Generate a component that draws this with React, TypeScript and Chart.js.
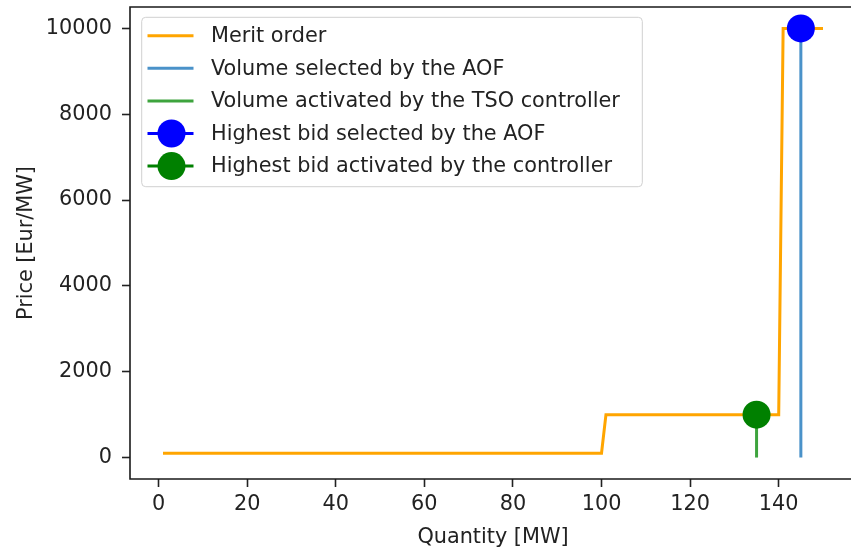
import React, { useEffect, useRef } from "react";
import { Chart, registerables } from "chart.js";

Chart.register(...registerables);

// ---- data ----
const meritQuantity = [1, 100, 101, 140, 141, 150];
const meritPrice = [100, 100, 1000, 1000, 10000, 10000];
const aofVolume = 145;
const aofPrice = 10000;
const tsoVolume = 135;
const tsoPrice = 1000;
const xTicks = [0, 20, 40, 60, 80, 100, 120, 140];
const yTicks = [0, 2000, 4000, 6000, 8000, 10000];
const seriesLabels = [
  "Merit order",
  "Volume selected by the AOF",
  "Volume activated by the TSO controller",
  "Highest bid selected by the AOF",
  "Highest bid activated by the controller",
];
const xTitle = "Quantity [MW]";
const yTitle = "Price [Eur/MW]";

// ---- style ----
const FONT = "'DejaVu Sans', sans-serif";
const FS = 20.8;
const TEXT = "#222222";
const ORANGE = "#ffa500";
const BLUE_LINE = "#4a92c9";
const GREEN_LINE = "#3ea43e";
const BLUE_DOT = "#0000ff";
const GREEN_DOT = "#008000";

const spinePlugin = {
  id: "spines",
  afterDatasetsDraw(chart: any) {
    const { ctx, chartArea: a } = chart;
    ctx.save();
    ctx.strokeStyle = "#1a1a1a";
    ctx.lineWidth = 1.6;
    ctx.beginPath();
    ctx.moveTo(a.right, a.top);
    ctx.lineTo(a.left, a.top);
    ctx.lineTo(a.left, a.bottom);
    ctx.lineTo(a.right, a.bottom);
    ctx.stroke();
    ctx.restore();
  },
};

const legendPlugin = {
  id: "mplLegend",
  afterDraw(chart: any) {
    const { ctx } = chart;
    const box = { x: 141.7, y: 17.3, w: 500.6, h: 169.4 };
    ctx.save();
    ctx.beginPath();
    (ctx as any).roundRect(box.x, box.y, box.w, box.h, 4);
    ctx.fillStyle = "rgba(255,255,255,0.8)";
    ctx.fill();
    ctx.strokeStyle = "#d0d0d0";
    ctx.lineWidth = 1;
    ctx.stroke();
    const rowTop = 35.7;
    const rowStep = 32.6;
    const hx0 = 147.5;
    const hx1 = 193.5;
    chart.data.datasets.forEach((ds: any, i: number) => {
      const y = rowTop + i * rowStep;
      ctx.beginPath();
      ctx.moveTo(hx0, y);
      ctx.lineTo(hx1, y);
      ctx.strokeStyle = ds.borderColor;
      ctx.lineWidth = ds.borderWidth;
      ctx.stroke();
      if (ds.pointRadius > 0) {
        ctx.beginPath();
        ctx.arc((hx0 + hx1) / 2 + 1, y, ds.pointRadius, 0, Math.PI * 2);
        ctx.fillStyle = ds.pointBackgroundColor;
        ctx.fill();
      }
      ctx.fillStyle = TEXT;
      ctx.font = `${FS}px ${FONT}`;
      ctx.textBaseline = "middle";
      ctx.textAlign = "left";
      ctx.fillText(ds.label, 211, y + 1);
    });
    ctx.restore();
  },
};

const zeroPad = (s: any) => {
  s.paddingTop = 0;
  s.paddingBottom = 0;
  s.paddingLeft = 0;
  s.paddingRight = 0;
};

export default function App() {
  const ref = useRef<HTMLCanvasElement | null>(null);

  useEffect(() => {
    if (!ref.current) return;
    const chart = new Chart(ref.current, {
      type: "line",
      data: {
        datasets: [
          {
            label: seriesLabels[0],
            data: meritQuantity.map((x, i) => ({ x, y: meritPrice[i] })),
            borderColor: ORANGE,
            borderWidth: 3,
            pointRadius: 0,
            tension: 0,
            fill: false,
            order: 5,
          },
          {
            label: seriesLabels[1],
            data: [
              { x: aofVolume, y: 0 },
              { x: aofVolume, y: aofPrice },
            ],
            borderColor: BLUE_LINE,
            borderWidth: 3,
            pointRadius: 0,
            fill: false,
            order: 4,
          },
          {
            label: seriesLabels[2],
            data: [
              { x: tsoVolume, y: 0 },
              { x: tsoVolume, y: tsoPrice },
            ],
            borderColor: GREEN_LINE,
            borderWidth: 3,
            pointRadius: 0,
            fill: false,
            order: 3,
          },
          {
            label: seriesLabels[3],
            data: [{ x: aofVolume, y: aofPrice }],
            borderColor: BLUE_DOT,
            borderWidth: 3,
            pointRadius: 14,
            pointBorderWidth: 0,
            pointBackgroundColor: BLUE_DOT,
            pointBorderColor: BLUE_DOT,
            fill: false,
            order: 2,
          },
          {
            label: seriesLabels[4],
            data: [{ x: tsoVolume, y: tsoPrice }],
            borderColor: GREEN_DOT,
            borderWidth: 3,
            pointRadius: 14,
            pointBorderWidth: 0,
            pointBackgroundColor: GREEN_DOT,
            pointBorderColor: GREEN_DOT,
            fill: false,
            order: 1,
          },
        ],
      },
      options: {
        responsive: false,
        animation: false,
        events: [],
        devicePixelRatio: 1,
        layout: { autoPadding: false, padding: { left: 0, top: 7, right: 24, bottom: 0 } },
        plugins: {
          legend: { display: false },
          tooltip: { enabled: false },
        },
        scales: {
          x: {
            type: "linear",
            min: -6.45,
            max: 157.45,
            afterFit: (s: any) => {
              s.height = 71;
              zeroPad(s);
            },
            afterBuildTicks: (s: any) => {
              s.ticks = xTicks.map((v) => ({ value: v }));
            },
            grid: {
              drawOnChartArea: false,
              drawTicks: true,
              tickLength: 8,
              tickColor: "#222",
              tickWidth: 1.6,
            },
            border: { display: false },
            ticks: {
              color: TEXT,
              font: { family: FONT, size: FS },
              padding: 5.5,
              maxRotation: 0,
              autoSkip: false,
              callback: (v: any) => String(v),
            },
            title: {
              display: true,
              text: xTitle,
              color: TEXT,
              font: { family: FONT, size: FS },
              padding: { top: 0, bottom: 0 },
            },
          },
          y: {
            type: "linear",
            min: -500,
            max: 10500,
            afterFit: (s: any) => {
              s.width = 130;
              zeroPad(s);
            },
            afterBuildTicks: (s: any) => {
              s.ticks = yTicks.map((v) => ({ value: v }));
            },
            grid: {
              drawOnChartArea: false,
              drawTicks: true,
              tickLength: 8,
              tickColor: "#222",
              tickWidth: 1.6,
            },
            border: { display: false },
            ticks: {
              color: TEXT,
              font: { family: FONT, size: FS },
              padding: 10,
              autoSkip: false,
              callback: (v: any) => String(v),
            },
            title: {
              display: true,
              text: yTitle,
              color: TEXT,
              font: { family: FONT, size: FS },
              padding: { top: 14.5, bottom: 0 },
            },
          },
        },
      },
      plugins: [spinePlugin, legendPlugin],
    } as any);
    return () => chart.destroy();
  }, []);

  return (
    <div
      style={{
        position: "fixed",
        left: 0,
        top: 0,
        width: 851,
        height: 550,
        overflow: "hidden",
        background: "#ffffff",
      }}
    >
      <canvas ref={ref} width={880} height={550} style={{ width: 880, height: 550, display: "block" }} />
    </div>
  );
}
